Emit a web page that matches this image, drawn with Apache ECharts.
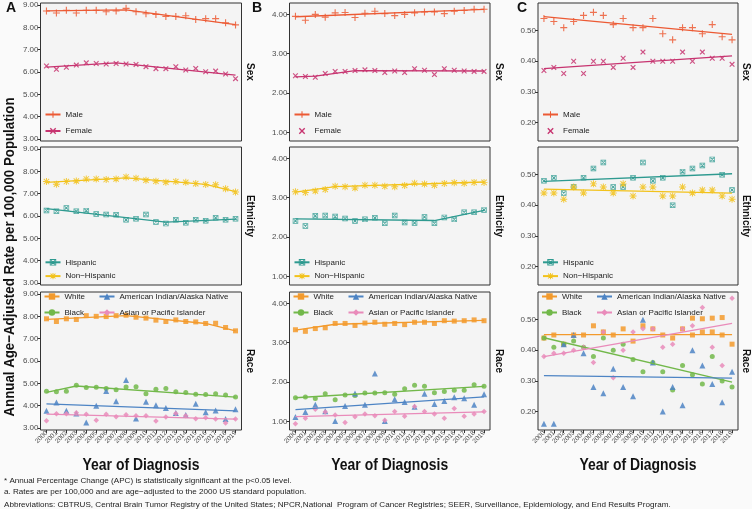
<!DOCTYPE html>
<html><head><meta charset="utf-8">
<script src="https://cdn.jsdelivr.net/npm/echarts@6/dist/echarts.min.js"></script>
<style>html,body{margin:0;padding:0;background:#fafafa}#c{width:752px;height:509px}</style>
</head><body><div id="c"></div>
<script>
// ---------- data ----------
const years = [2000,2001,2002,2003,2004,2005,2006,2007,2008,2009,2010,2011,2012,2013,2014,2015,2016,2017,2018,2019];

// Panel A
const aMale      = [8.73,8.64,8.76,8.64,8.76,8.76,8.70,8.73,8.85,8.70,8.61,8.58,8.49,8.49,8.52,8.35,8.39,8.39,8.20,8.11];
const aMaleFit   = [[2000,8.74],[2008,8.78],[2019,8.12]];
const aFemale    = [6.27,6.12,6.21,6.31,6.41,6.38,6.36,6.38,6.36,6.34,6.24,6.15,6.15,6.24,6.09,6.16,6.01,6.04,5.91,5.70];
const aFemaleFit = [[2000,6.22],[2007,6.41],[2019,5.86]];
const aHisp      = [6.25,6.21,6.36,6.21,6.24,6.09,6.07,6.06,5.83,5.88,6.07,5.73,5.66,5.83,5.70,5.83,5.79,5.92,5.83,5.88];
const aHispFit   = [[2000,6.33],[2012,5.73],[2019,5.86]];
const aNonHisp   = [7.54,7.42,7.54,7.57,7.66,7.66,7.63,7.66,7.75,7.69,7.60,7.56,7.51,7.54,7.51,7.45,7.41,7.40,7.22,7.07];
const aNonHispFit= [[2000,7.51],[2008,7.71],[2016,7.42],[2019,7.09]];
const aWhite     = [7.89,7.77,7.89,7.86,8.03,8.00,7.99,8.03,8.05,7.96,7.92,7.83,7.77,7.84,7.77,7.75,7.68,7.69,7.50,7.35];
const aWhiteFit  = [[2000,7.86],[2008,8.03],[2016,7.68],[2019,7.35]];
const aBlack     = [4.65,4.62,4.65,4.91,4.81,4.82,4.77,4.71,4.84,4.85,4.53,4.74,4.77,4.62,4.59,4.51,4.50,4.53,4.48,4.39];
const aBlackFit  = [[2000,4.59],[2003,4.88],[2019,4.38]];
const aAIAN      = [3.77,4.14,3.77,3.65,3.25,4.00,4.66,4.20,5.15,3.43,4.17,4.02,3.90,3.67,3.58,4.08,3.70,3.78,3.40,3.84];
const aAIANFit   = [[2000,4.08],[2019,3.77]];
const aAPI       = [3.32,3.64,3.64,3.68,3.61,3.35,3.61,3.50,3.59,3.55,3.55,3.31,3.49,3.65,3.55,3.41,3.46,3.40,3.22,3.40];
const aAPIFit    = [[2000,3.62],[2019,3.40]];

// Panel B
const bMale      = [3.95,3.85,4.00,3.93,4.04,4.05,3.92,4.03,4.08,4.02,3.97,4.00,4.04,4.06,4.06,4.02,4.08,4.10,4.13,4.13];
const bMaleFit   = [[2000,3.94],[2019,4.13]];
const bFemale    = [2.44,2.42,2.40,2.50,2.55,2.55,2.57,2.59,2.57,2.52,2.56,2.52,2.62,2.58,2.47,2.62,2.58,2.56,2.55,2.55];
const bFemaleFit = [[2000,2.41],[2002,2.43],[2006,2.57],[2019,2.56]];
const bHisp      = [2.41,2.28,2.54,2.55,2.52,2.47,2.41,2.45,2.49,2.35,2.55,2.37,2.36,2.51,2.35,2.50,2.45,2.63,2.63,2.69];
const bHispFit   = [[2000,2.46],[2014,2.42],[2019,2.68]];
const bNonHisp   = [3.15,3.13,3.17,3.21,3.29,3.28,3.25,3.32,3.32,3.29,3.28,3.31,3.37,3.35,3.32,3.36,3.38,3.37,3.39,3.39];
const bNonHispFit= [[2000,3.14],[2004,3.28],[2019,3.40]];
const bWhite     = [3.33,3.29,3.36,3.38,3.49,3.49,3.44,3.50,3.52,3.47,3.49,3.46,3.52,3.52,3.49,3.56,3.55,3.56,3.58,3.56];
const bWhiteFit  = [[2000,3.32],[2004,3.47],[2019,3.57]];
const bBlack     = [1.60,1.62,1.58,1.70,1.55,1.67,1.66,1.72,1.72,1.73,1.69,1.83,1.92,1.89,1.73,1.76,1.79,1.79,1.93,1.89];
const bBlackFit  = [[2000,1.60],[2019,1.89]];
const bAIAN      = [1.11,1.24,1.42,1.26,1.01,1.39,1.71,1.42,2.22,1.01,1.56,1.49,1.37,1.70,1.44,1.52,1.61,1.59,1.42,1.69];
const bAIANFit   = [[2000,1.30],[2019,1.62]];
const bAPI       = [0.94,1.08,1.31,1.24,1.16,0.97,1.12,1.19,1.14,1.03,1.25,1.13,1.38,1.25,1.19,1.08,1.33,1.13,1.19,1.25];
const bAPIFit    = [[2000,1.12],[2019,1.24]];

// Panel C
const cMale      = [0.54,0.53,0.51,0.53,0.55,0.56,0.55,0.52,0.54,0.51,0.51,0.54,0.49,0.47,0.51,0.51,0.49,0.52,0.48,0.47];
const cMaleFit   = [[2000,0.546],[2019,0.488]];
const cFemale    = [0.37,0.38,0.36,0.40,0.36,0.40,0.40,0.38,0.41,0.38,0.43,0.40,0.40,0.40,0.43,0.40,0.43,0.41,0.41,0.39];
const cFemaleFit = [[2000,0.376],[2019,0.418]];
const cHisp      = [0.48,0.49,0.44,0.46,0.49,0.52,0.54,0.46,0.46,0.49,0.54,0.48,0.49,0.40,0.51,0.52,0.53,0.55,0.50,0.45];
const cHispFit   = [[2000,0.478],[2019,0.503]];
const cNonHisp   = [0.44,0.44,0.42,0.46,0.44,0.47,0.46,0.44,0.47,0.43,0.46,0.46,0.43,0.43,0.46,0.44,0.45,0.45,0.43,0.42];
const cNonHispFit= [[2000,0.453],[2019,0.440]];
const cWhite     = [0.44,0.45,0.42,0.45,0.45,0.48,0.46,0.45,0.47,0.43,0.48,0.47,0.45,0.44,0.47,0.45,0.46,0.46,0.45,0.42];
const cWhiteFit  = [[2000,0.451],[2019,0.451]];
const cWhiteExtraYears = [2015,2016,2017,2018];
const cWhiteExtra      = [0.505,0.503,0.505,0.507];
const cBlack     = [0.44,0.41,0.42,0.43,0.41,0.38,0.44,0.40,0.42,0.37,0.33,0.36,0.33,0.27,0.35,0.32,0.29,0.38,0.30,0.28];
const cBlackFit  = [[2000,0.441],[2019,0.296]];
const cAIAN      = [0.16,0.16,0.42,0.45,0.39,0.28,0.26,0.34,0.28,0.25,0.50,0.36,0.20,0.28,0.22,0.40,0.35,0.29,0.23,0.33];
const cAIANFit   = [[2000,0.317],[2019,0.309]];
const cAPI       = [0.38,0.39,0.39,0.40,0.41,0.36,0.46,0.31,0.40,0.46,0.47,0.47,0.41,0.42,0.47,0.48,0.54,0.41,0.35,0.57];
const cAPIFit    = [[2000,0.379],[2019,0.488]];

// axis ticks / ranges
const ticksA = [3,4,5,6,7,8,9];
const ticksB = [1,2,3,4];
const ticksC = [0.2,0.3,0.4,0.5];
const rangeA = [2.91, 9.09];
const rangeB = [0.78, 4.29];
const rangeC = [0.1395, 0.5905];

const stripNames = ['Sex','Ethnicity','Race'];
const panelLetters = ['A','B','C'];

// ---------- styles ----------
const FONT = "'Liberation Sans', Arial, sans-serif";
const SYM = {
  plus: 'path://M4.2,0H5.8V4.2H10V5.8H5.8V10H4.2V5.8H0V4.2H4.2Z',
  cross: 'path://M0,1.5L1.5,0L10,8.5L8.5,10Z M8.5,0L10,1.5L1.5,10L0,8.5Z',
  boxx: 'path://M0,0H10V10H0Z M1.3,1.3V8.7H8.7V1.3Z M1.3,2.5L2.5,1.3L8.7,7.5L7.5,8.7Z M7.5,1.3L8.7,2.5L2.5,8.7L1.3,7.5Z',
  star: 'path://M4.3,0H5.7V4.3H10V5.7H5.7V10H4.3V5.7H0V4.3H4.3Z M0.7,1.7L1.7,0.7L9.3,8.3L8.3,9.3Z M8.3,0.7L9.3,1.7L1.7,9.3L0.7,8.3Z'
};
const STYLE = {
  'Male':        {color:'#EC5A34', symbol:SYM.plus,  size:7},
  'Female':      {color:'#C73470', symbol:SYM.cross, size:5.5},
  'Hispanic':    {color:'#2E9A90', symbol:SYM.boxx,  size:5.5},
  'Non−Hispanic':{color:'#F2C21B', symbol:SYM.star,  size:7},
  'White':       {color:'#F39A2C', symbol:'rect',    size:5},
  'Black':       {color:'#72B84A', symbol:'circle',  size:5},
  'American Indian/Alaska Native': {color:'#4D84C4', symbol:'triangle', size:6},
  'Asian or Pacific Islander':     {color:'#E98BBA', symbol:'diamond',  size:5.5}
};

const panels = [
  {id:'A', col:0, row:0, range:rangeA, ticks:ticksA, groups:[['Male',aMale,aMaleFit],['Female',aFemale,aFemaleFit]]},
  {id:'A', col:0, row:1, range:rangeA, ticks:ticksA, groups:[['Hispanic',aHisp,aHispFit],['Non−Hispanic',aNonHisp,aNonHispFit]]},
  {id:'A', col:0, row:2, range:rangeA, ticks:ticksA, groups:[['White',aWhite,aWhiteFit],['Black',aBlack,aBlackFit],['American Indian/Alaska Native',aAIAN,aAIANFit],['Asian or Pacific Islander',aAPI,aAPIFit]]},
  {id:'B', col:1, row:0, range:rangeB, ticks:ticksB, groups:[['Male',bMale,bMaleFit],['Female',bFemale,bFemaleFit]], noLine:['Female']},
  {id:'B', col:1, row:1, range:rangeB, ticks:ticksB, groups:[['Hispanic',bHisp,bHispFit],['Non−Hispanic',bNonHisp,bNonHispFit]]},
  {id:'B', col:1, row:2, range:rangeB, ticks:ticksB, groups:[['White',bWhite,bWhiteFit],['Black',bBlack,bBlackFit],['American Indian/Alaska Native',bAIAN,bAIANFit],['Asian or Pacific Islander',bAPI,bAPIFit]]},
  {id:'C', col:2, row:0, range:rangeC, ticks:ticksC, groups:[['Male',cMale,cMaleFit],['Female',cFemale,cFemaleFit]], noLine:['Female']},
  {id:'C', col:2, row:1, range:rangeC, ticks:ticksC, groups:[['Hispanic',cHisp,cHispFit],['Non−Hispanic',cNonHisp,cNonHispFit]]},
  {id:'C', col:2, row:2, range:rangeC, ticks:ticksC, groups:[['White',cWhite,cWhiteFit],['Black',cBlack,cBlackFit],['American Indian/Alaska Native',cAIAN,cAIANFit],['Asian or Pacific Islander',cAPI,cAPIFit]],
   extra:{group:'White', x:cWhiteExtraYears, y:cWhiteExtra}}
];

// ---------- layout ----------
const COL_L = [40.5, 289.5, 538];
const COL_W = [201, 200.5, 200];
const ROW_T = [3, 147, 292];
const ROW_H = 138;
const PANEL_BG = '#f4f4f4';
// legend geometry per row: [first item top offset from row top, item gap]
const LEG = [[107.5, 8.5], [111.3, 5.8], [0.5, 8]];

const grids=[], xAxes=[], yAxes=[], series=[], legends=[];
panels.forEach((p,i)=>{
  const L = COL_L[p.col], T = ROW_T[p.row];
  grids.push({left:L, top:T, width:COL_W[p.col], height:ROW_H, show:true, backgroundColor:PANEL_BG,
    borderColor:'#333', borderWidth:1, containLabel:false, outerBoundsMode:'none'});
  const bottom = p.row===2;
  xAxes.push({gridIndex:i, type:'value', min:1999.4, max:2019.6, axisLine:{show:false}, splitLine:{show:false},
    axisTick:{show:bottom, length:3, lineStyle:{color:'#333', width:1}, customValues:years},
    axisLabel:{show:bottom, customValues:years, rotate:45, fontSize:6.5, color:'#4d4d4d', margin:2, fontFamily:FONT, formatter:v=>String(v)}});
  yAxes.push({gridIndex:i, type:'value', min:p.range[0], max:p.range[1], axisLine:{show:false}, splitLine:{show:false},
    axisTick:{show:true, length:3, lineStyle:{color:'#333', width:1}, customValues:p.ticks},
    axisLabel:{customValues:p.ticks, formatter:v=>Number(v).toFixed(2), fontSize:8, color:'#4d4d4d', margin:2, fontFamily:FONT}});
  p.groups.forEach(([name,obs,fit])=>{
    const st = STYLE[name];
    const sname = p.id+p.row+'|'+name;
    series.push({type:'line', name:sname, xAxisIndex:i, yAxisIndex:i, data:fit, showSymbol:false,
      symbol:st.symbol, symbolSize:st.size, lineStyle:{color:st.color, width:1.3}, itemStyle:{color:st.color},
      z:3, silent:true, animation:false});
    series.push({type:'scatter', name:sname, xAxisIndex:i, yAxisIndex:i, data:years.map((y,k)=>[y,obs[k]]),
      symbol:st.symbol, symbolSize:st.size, itemStyle:{color:st.color, opacity:0.85}, z:2, silent:true, animation:false});
  });
  if (p.extra){
    const st = STYLE[p.extra.group];
    series.push({type:'scatter', name:p.id+p.row+'|'+p.extra.group, xAxisIndex:i, yAxisIndex:i,
      data:p.extra.x.map((y,k)=>[y,p.extra.y[k]]), symbol:st.symbol, symbolSize:st.size,
      itemStyle:{color:st.color, opacity:0.85}, z:2, silent:true, animation:false});
  }
  const names = p.groups.map(g=>g[0]);
  const mk = (list)=>list.map(n=>{
    const d = {name:p.id+p.row+'|'+n};
    if (p.noLine && p.noLine.includes(n)) d.lineStyle = {opacity:0};
    return d;
  });
  const legBase = {orient:'vertical', itemWidth:15, itemHeight:8, padding:0, selectedMode:false,
    formatter:n=>n.split('|')[1], textStyle:{fontSize:8, color:'#222', fontFamily:FONT, lineHeight:8}};
  const lg = LEG[p.row];
  if (p.row<2){
    legends.push(Object.assign({}, legBase, {left:L+4, top:T+lg[0], itemGap:lg[1], data:mk(names)}));
  } else {
    legends.push(Object.assign({}, legBase, {left:L+3, top:T+lg[0], itemGap:lg[1], data:mk([names[0],names[1]])}));
    legends.push(Object.assign({}, legBase, {left:L+58, top:T+lg[0], itemGap:lg[1], data:mk([names[2],names[3]])}));
  }
});

// ---------- text ----------
const graphic = [];
const txt = (x,y,text,font,extra)=>Object.assign({type:'text', x:x, y:y, silent:true,
  style:{text:text, font:font, fill:'#111', align:'center', verticalAlign:'middle'}}, extra||{});
graphic.push(txt(10, 257, 'Annual Age−Adjusted Rate per 100,000 Population', 'bold 15px '+FONT, {rotation:Math.PI/2, scaleX:0.885}));
const letterX = [11, 257, 522];
panelLetters.forEach((l,c)=>graphic.push(txt(letterX[c], 8, l, 'bold 14px '+FONT)));
const stripX = [250, 498.5, 746];
stripNames.forEach((s,r)=>stripX.forEach(x=>graphic.push(txt(x, ROW_T[r]+ROW_H/2, s, 'bold 10px '+FONT, {rotation:-Math.PI/2}))));
[0,1,2].forEach(c=>graphic.push(txt(COL_L[c]+COL_W[c]/2, 466, 'Year of Diagnosis', 'bold 16px '+FONT, {scaleX:0.87})));
const notes = ['* Annual Percentage Change (APC) is statistically significant at the p<0.05 level.',
  'a. Rates are per 100,000 and are age−adjusted to the 2000 US standard population.',
  'Abbreviations: CBTRUS, Central Brain Tumor Registry of the United States; NPCR,National  Program of Cancer Registries; SEER, Surveillance, Epidemiology, and End Results Program.'];
const noteY = [481, 491.5, 504.5];
notes.forEach((n,k)=>graphic.push({type:'text', x:4, y:noteY[k], silent:true,
  style:{text:n, font:'8.1px '+FONT, fill:'#222', align:'left', verticalAlign:'middle'}}));

const chart = echarts.init(document.getElementById('c'), null, {renderer:'canvas'});
chart.setOption({backgroundColor:'#fafafa', animation:false, grid:grids, xAxis:xAxes, yAxis:yAxes,
  series:series, legend:legends, graphic:graphic});
</script></body></html>
